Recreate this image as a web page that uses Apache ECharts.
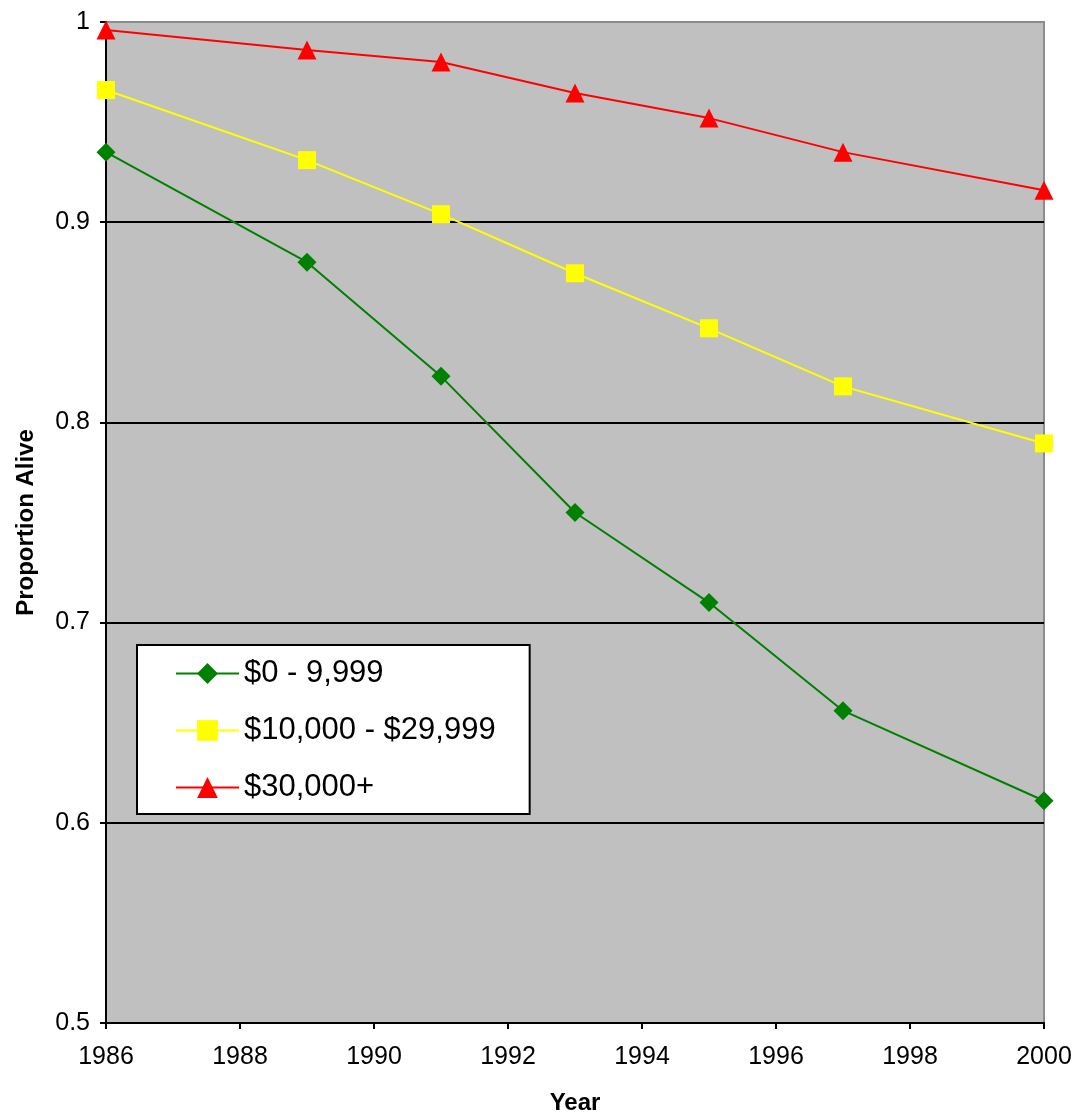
<!DOCTYPE html>
<html>
<head>
<meta charset="utf-8">
<script src="https://cdn.jsdelivr.net/npm/echarts@6/dist/echarts.min.js"></script>
<style>html,body{margin:0;padding:0;background:#fff}#c{width:1076px;height:1115px}</style>
</head>
<body>
<div id="c"></div>
<script>
const years = [1986, 1989, 1991, 1993, 1995, 1997, 2000];
const seriesNames = ['$0 - 9,999', '$10,000 - $29,999', '$30,000+'];
const low = [0.935, 0.880, 0.823, 0.755, 0.710, 0.656, 0.611];
const mid = [0.966, 0.931, 0.904, 0.8745, 0.847, 0.818, 0.7895];
const high = [0.996, 0.986, 0.980, 0.9645, 0.952, 0.935, 0.916];

const FONT = "'Liberation Sans', Arial, sans-serif";
const chart = echarts.init(document.getElementById('c'));
function mk(name, vals, color, symbol, size) {
  return {
    name: name, type: 'line', data: years.map((y, i) => [y, vals[i]]),
    symbol: symbol, symbolSize: size, showSymbol: true,
    lineStyle: { color: color, width: 2 },
    itemStyle: { color: color },
    emphasis: { disabled: true }, animation: false
  };
}
chart.setOption({
  animation: false,
  grid: { left: 106, top: 22, right: 32, bottom: 92, outerBoundsMode: 'none', containLabel: false,
          show: true, backgroundColor: '#c0c0c0', borderColor: '#8c8c8c', borderWidth: 2 },
  legend: {
    orient: 'vertical', left: 137, top: 645,
    backgroundColor: '#fff', borderColor: '#000', borderWidth: 2,
    padding: [13, 34, 11, 38], itemGap: 26, itemWidth: 63, itemHeight: 26,
    textStyle: { fontFamily: FONT, fontSize: 31, color: '#000', lineHeight: 30 },
    data: seriesNames
  },
  xAxis: {
    type: 'value', min: 1986, max: 2000, interval: 2,
    name: 'Year', nameLocation: 'middle', nameGap: 68,
    nameTextStyle: { fontFamily: FONT, fontSize: 24, fontWeight: 'bold', color: '#000' },
    axisLine: { show: true, lineStyle: { color: '#000', width: 2 } },
    axisTick: { show: true, inside: false, length: 6, lineStyle: { color: '#000', width: 2 } },
    axisLabel: { fontFamily: FONT, fontSize: 25, color: '#000', margin: 22, formatter: v => String(v) },
    splitLine: { show: false }
  },
  yAxis: {
    type: 'value', min: 0.5, max: 1, interval: 0.1,
    name: 'Proportion Alive', nameLocation: 'middle', nameGap: 68, nameRotate: 90,
    nameTextStyle: { fontFamily: FONT, fontSize: 24, fontWeight: 'bold', color: '#000' },
    axisLine: { show: true, lineStyle: { color: '#000', width: 2 } },
    axisTick: { show: true, inside: false, length: 6, lineStyle: { color: '#000', width: 2 } },
    axisLabel: { fontFamily: FONT, fontSize: 25, color: '#000', margin: 16 },
    splitLine: { show: true, lineStyle: { color: ['#000', '#000', '#000', '#000', '#000', '#8c8c8c'], width: 2 } }
  },
  series: [
    mk(seriesNames[0], low, '#008000', 'diamond', 19),
    mk(seriesNames[1], mid, '#ffff00', 'rect', 18),
    mk(seriesNames[2], high, '#ff0000', 'triangle', 19)
  ]
});
</script>
</body>
</html>
